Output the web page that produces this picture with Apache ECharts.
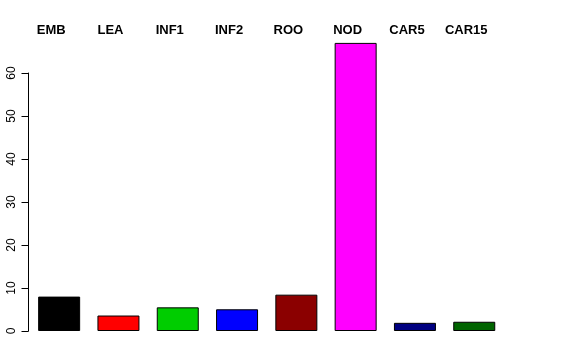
<!DOCTYPE html>
<html>
<head>
<meta charset="utf-8">
<script src="https://cdn.jsdelivr.net/npm/echarts@6/dist/echarts.min.js"></script>
<style>html,body{margin:0;padding:0;background:#fff;}#c{width:576px;height:360px;}</style>
</head>
<body>
<div id="c"></div>
<script>
const categories = ["EMB", "LEA", "INF1", "INF2", "ROO", "NOD", "CAR5", "CAR15"];
const values = [8.0, 3.6, 5.5, 5.05, 8.45, 67.0, 1.9, 2.15];
const barColors = ["#000000", "#FF0000", "#00CD00", "#0000FF", "#8B0000", "#FF00FF", "#000080", "#006400"];
const yTicks = [0, 10, 20, 30, 40, 50, 60];

const chart = echarts.init(document.getElementById('c'), null, {renderer: 'canvas'});
chart.setOption({
  animation: false,
  backgroundColor: '#ffffff',
  textStyle: {fontFamily: 'Liberation Sans, Arial, Helvetica, sans-serif'},
  grid: {left: 29.5, right: 72.1, top: 73, bottom: 29, containLabel: false},
  xAxis: {
    type: 'category',
    position: 'top',
    data: categories,
    boundaryGap: true,
    axisLine: {show: false},
    axisTick: {show: false},
    splitLine: {show: false},
    axisLabel: {
      show: true,
      interval: 0,
      color: '#000',
      fontSize: 13,
      fontWeight: 'bold',
      margin: 36,
      padding: [0, 16, 0, 0]
    }
  },
  yAxis: {
    type: 'value',
    min: yTicks[0],
    max: yTicks[yTicks.length - 1],
    interval: 10,
    offset: 1,
    axisLine: {show: true, lineStyle: {color: '#000', width: 1}},
    axisTick: {show: true, length: 7, lineStyle: {color: '#000', width: 1}},
    splitLine: {show: false},
    axisLabel: {
      color: '#000',
      fontSize: 12,
      rotate: 90,
      margin: 11
    }
  },
  series: [{
    type: 'bar',
    clip: false,
    barWidth: 42,
    data: values.map((v, i) => ({
      value: v,
      itemStyle: {color: barColors[i], borderColor: '#000', borderWidth: 1}
    }))
  }]
});
</script>
</body>
</html>
